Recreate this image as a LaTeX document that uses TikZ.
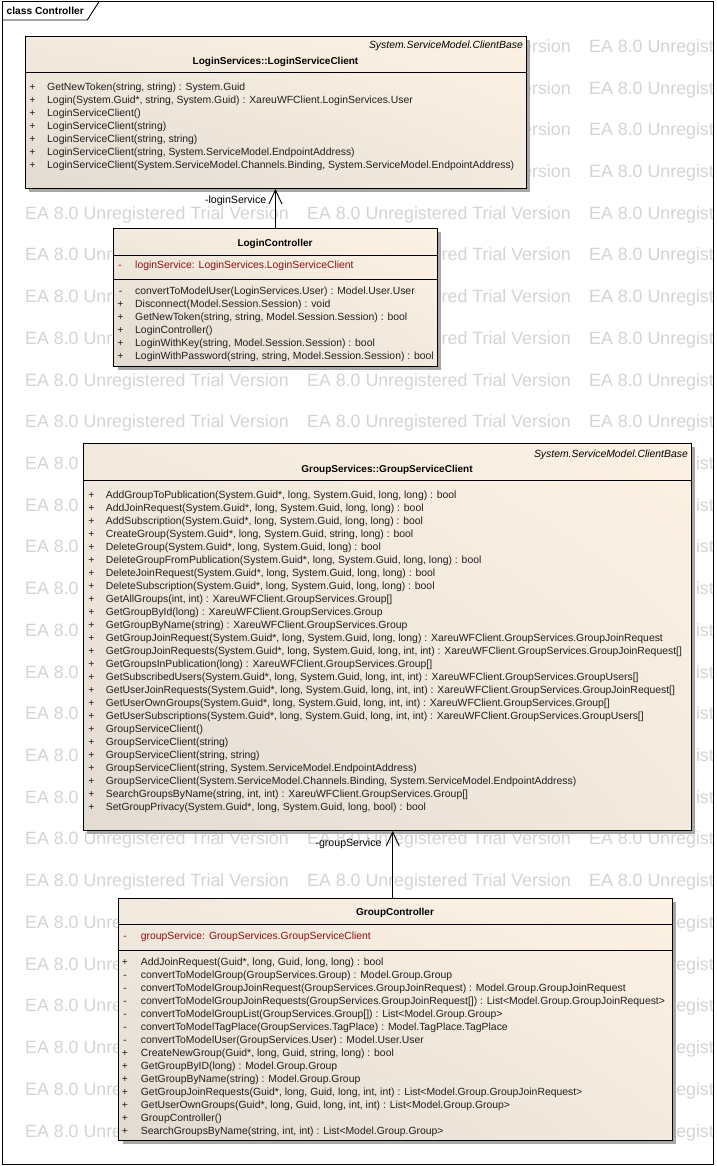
\documentclass[tikz,border=0pt]{standalone}
\usepackage{fontspec}
\setmainfont{Liberation Sans}
\usetikzlibrary{arrows.meta,shadows,shadings}
\definecolor{cream}{HTML}{FCF1E3}
\definecolor{creamdark}{HTML}{E2DBD1}
\definecolor{creammid}{HTML}{F3EADF}
\definecolor{attrred}{HTML}{8C1010}
\definecolor{wmgray}{HTML}{D4D4D4}
\definecolor{optext}{HTML}{1E1E1E}
\tikzset{
  umlbox/.style={draw=black, line width=0.9pt, shade, upper right=cream, lower left=creamdark,
    upper left=creammid, lower right=creammid, anchor=north west, inner sep=0pt,
    drop shadow={shadow xshift=4pt, shadow yshift=-4pt, fill=black!35, opacity=1}},
  sepline/.style={draw=black, line width=0.9pt},
  op/.style={anchor=base west, inner sep=0pt, font=\fontsize{10.4}{13}\selectfont, text=optext},
  sgn/.style={anchor=base, inner sep=0pt, font=\fontsize{10.4}{13}\selectfont, text=optext},
  attr/.style={anchor=base west, inner sep=0pt, font=\fontsize{10.4}{13}\selectfont, text=attrred},
  attrsgn/.style={anchor=base, inner sep=0pt, font=\fontsize{10.4}{13}\selectfont, text=attrred},
  clsname/.style={anchor=base, inner sep=0pt, font=\fontsize{10}{12}\bfseries\selectfont, text=black},
  stereo/.style={anchor=base east, inner sep=0pt, font=\fontsize{10.4}{12}\itshape\selectfont, text=black},
  rolelbl/.style={anchor=base east, inner sep=0pt, font=\fontsize{10.6}{12}\selectfont, text=black},
  wmark/.style={anchor=base west, inner sep=0pt, font=\fontsize{17.8}{20}\selectfont, text=wmgray},
  assoc/.style={draw=black, line width=0.9pt, -{Straight Barb[length=14pt,width=13pt,line width=0.9pt]}},
  framebox/.style={draw=black, line width=0.9pt},
}
\newcommand\umlops[5]{%
  \foreach \sg/\txt [count=\n from 0] in {#5} {%
    \node[sgn] (#1s\n) at (#2, #4+13*\n) {\sg};
    \node[op] (#1t\n) at (#3, #4+13*\n) {\txt};
  }%
}
\begin{document}
\begin{tikzpicture}[x=1pt,y=-1pt]
\useasboundingbox (0,0) rectangle (716,1166);
\fill[white] (0,0) rectangle (716,1166);

% watermark
\begin{scope}
  \clip (2,1.7) rectangle (713,1164);
  \foreach \k in {0,...,26} {
    \foreach \c [count=\m] in {25,307,589} {
      \node[wmark] (wm\k-\m) at (\c, 52.3+41.72*\k) {EA 8.0 Unregistered Trial Version};
    }
  }
\end{scope}

% frame
\draw[framebox] (2,1.7) rectangle (713,1164);
\draw[framebox] (2,20) -- (87.3,20) -- (99,1.7);
\node[anchor=base west, inner sep=0pt, font=\fontsize{10.2}{12}\bfseries\selectfont] (frametitle) at (6.5,15) {class Controller};

% LoginServiceClient
\node[umlbox, minimum width=501pt, minimum height=152pt] (lsc) at (25,36) {};
\draw[sepline] (lsc.west |- 0,72) -- (lsc.east |- 0,72);
\node[stereo] (lscst) at (523,49) {System.ServiceModel.ClientBase};
\node[clsname] (lscname) at (275.5,64.5) {LoginServices::LoginServiceClient};
\umlops{lsc}{32.5}{47}{90.7}{
  +/{GetNewToken(string, string) : System.Guid},
  +/{Login(System.Guid*, string, System.Guid) : XareuWFClient.LoginServices.User},
  +/{LoginServiceClient()},
  +/{LoginServiceClient(string)},
  +/{LoginServiceClient(string, string)},
  +/{LoginServiceClient(string, System.ServiceModel.EndpointAddress)},
  +/{LoginServiceClient(System.ServiceModel.Channels.Binding, System.ServiceModel.EndpointAddress)}}

% LoginController
\node[umlbox, minimum width=323.4pt, minimum height=138pt] (lc) at (113.3,227.7) {};
\draw[sepline] (lc.west |- 0,255) -- (lc.east |- 0,255);
\draw[sepline] (lc.west |- 0,279) -- (lc.east |- 0,279);
\node[clsname] (lcname) at (275,246.5) {LoginController};
\node[attrsgn] (lcas) at (120,268.5) {-};
\node[attr] (lcat) at (135,268.5) {loginService:\hspace{4pt}LoginServices.LoginServiceClient};
\umlops{lc}{120.5}{135}{294}{
  -/{convertToModelUser(LoginServices.User) : Model.User.User},
  +/{Disconnect(Model.Session.Session) : void},
  +/{GetNewToken(string, string, Model.Session.Session) : bool},
  +/{LoginController()},
  +/{LoginWithKey(string, Model.Session.Session) : bool},
  +/{LoginWithPassword(string, string, Model.Session.Session) : bool}}

% association login
\draw[assoc] (lc.north) -- (lc.north |- lsc.south);
\node[rolelbl] (lsclbl) at (266.5,204) {-loginService};

% GroupServiceClient
\node[umlbox, minimum width=607.7pt, minimum height=387pt] (gsc) at (83,443) {};
\draw[sepline] (gsc.west |- 0,480.7) -- (gsc.east |- 0,480.7);
\node[stereo] (gscst) at (688,457) {System.ServiceModel.ClientBase};
\node[clsname] (gscname) at (387,472.5) {GroupServices::GroupServiceClient};
\umlops{gsc}{91.5}{105.7}{498}{
  +/{AddGroupToPublication(System.Guid*, long, System.Guid, long, long) : bool},
  +/{AddJoinRequest(System.Guid*, long, System.Guid, long, long) : bool},
  +/{AddSubscription(System.Guid*, long, System.Guid, long, long) : bool},
  +/{CreateGroup(System.Guid*, long, System.Guid, string, long) : bool},
  +/{DeleteGroup(System.Guid*, long, System.Guid, long) : bool},
  +/{DeleteGroupFromPublication(System.Guid*, long, System.Guid, long, long) : bool},
  +/{DeleteJoinRequest(System.Guid*, long, System.Guid, long, long) : bool},
  +/{DeleteSubscription(System.Guid*, long, System.Guid, long, long) : bool},
  +/{GetAllGroups(int, int) : XareuWFClient.GroupServices.Group[]},
  +/{GetGroupById(long) : XareuWFClient.GroupServices.Group},
  +/{GetGroupByName(string) : XareuWFClient.GroupServices.Group},
  +/{GetGroupJoinRequest(System.Guid*, long, System.Guid, long, long) : XareuWFClient.GroupServices.GroupJoinRequest},
  +/{GetGroupJoinRequests(System.Guid*, long, System.Guid, long, int, int) : XareuWFClient.GroupServices.GroupJoinRequest[]},
  +/{GetGroupsInPublication(long) : XareuWFClient.GroupServices.Group[]},
  +/{GetSubscribedUsers(System.Guid*, long, System.Guid, long, int, int) : XareuWFClient.GroupServices.GroupUsers[]},
  +/{GetUserJoinRequests(System.Guid*, long, System.Guid, long, int, int) : XareuWFClient.GroupServices.GroupJoinRequest[]},
  +/{GetUserOwnGroups(System.Guid*, long, System.Guid, long, int, int) : XareuWFClient.GroupServices.Group[]},
  +/{GetUserSubscriptions(System.Guid*, long, System.Guid, long, int, int) : XareuWFClient.GroupServices.GroupUsers[]},
  +/{GroupServiceClient()},
  +/{GroupServiceClient(string)},
  +/{GroupServiceClient(string, string)},
  +/{GroupServiceClient(string, System.ServiceModel.EndpointAddress)},
  +/{GroupServiceClient(System.ServiceModel.Channels.Binding, System.ServiceModel.EndpointAddress)},
  +/{SearchGroupsByName(string, int, int) : XareuWFClient.GroupServices.Group[]},
  +/{SetGroupPrivacy(System.Guid*, long, System.Guid, long, bool) : bool}}

% GroupController
\node[umlbox, minimum width=553.4pt, minimum height=242.3pt] (gc) at (118.3,897.7) {};
\draw[sepline] (gc.west |- 0,924) -- (gc.east |- 0,924);
\draw[sepline] (gc.west |- 0,950) -- (gc.east |- 0,950);
\node[clsname] (gcname) at (395,915.5) {GroupController};
\node[attrsgn] (gcas) at (125,939) {-};
\node[attr] (gcat) at (140.7,939) {groupService:\hspace{4pt}GroupServices.GroupServiceClient};
\umlops{gc}{125}{140.7}{965}{
  +/{AddJoinRequest(Guid*, long, Guid, long, long) : bool},
  -/{convertToModelGroup(GroupServices.Group) : Model.Group.Group},
  -/{convertToModelGroupJoinRequest(GroupServices.GroupJoinRequest) : Model.Group.GroupJoinRequest},
  -/{convertToModelGroupJoinRequests(GroupServices.GroupJoinRequest[]) : List<Model.Group.GroupJoinRequest>},
  -/{convertToModelGroupList(GroupServices.Group[]) : List<Model.Group.Group>},
  -/{convertToModelTagPlace(GroupServices.TagPlace) : Model.TagPlace.TagPlace},
  -/{convertToModelUser(GroupServices.User) : Model.User.User},
  +/{CreateNewGroup(Guid*, long, Guid, string, long) : bool},
  +/{GetGroupByID(long) : Model.Group.Group},
  +/{GetGroupByName(string) : Model.Group.Group},
  +/{GetGroupJoinRequests(Guid*, long, Guid, long, int, int) : List<Model.Group.GroupJoinRequest>},
  +/{GetUserOwnGroups(Guid*, long, Guid, long, int, int) : List<Model.Group.Group>},
  +/{GroupController()},
  +/{SearchGroupsByName(string, int, int) : List<Model.Group.Group>}}

% association group
\coordinate (gx) at (392.7,0);
\draw[assoc] (gc.north -| gx) -- (gsc.south -| gx);
\node[rolelbl] (gsclbl) at (381.7,846) {-groupService};
\end{tikzpicture}
\end{document}
